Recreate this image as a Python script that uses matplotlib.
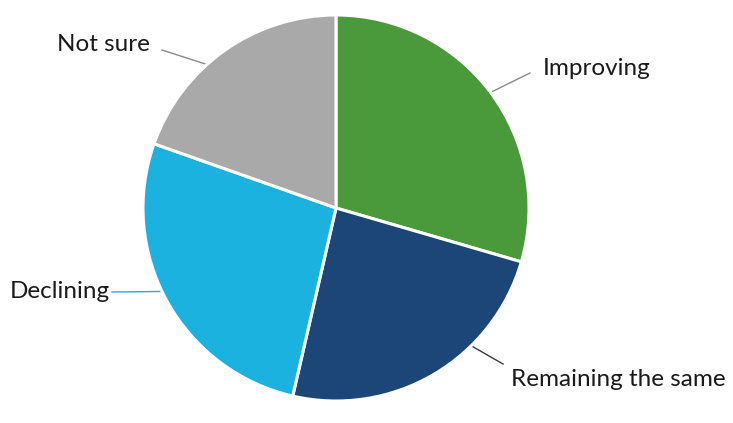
import numpy as np
import matplotlib
matplotlib.use("Agg")
import matplotlib.pyplot as plt

# Survey responses (share of respondents, %)
categories = ["Improving", "Remaining the same", "Declining", "Not sure"]
values = [29.5, 24.1, 26.8, 19.6]
colors = ["#4a9a3c", "#1c4677", "#1bb2e0", "#a9a9a9"]
line_colors = ["#8a8a8a", "#3a3a3a", "#1bb2e0", "#8a8a8a"]

W, H = 733, 423
fig = plt.figure(figsize=(W / 100, H / 100), dpi=100)
ax = fig.add_axes([0, 0, 1, 1])

cx, cy, r = 336, H - 208, 193
wedges, _ = ax.pie(values, colors=colors, startangle=90, counterclock=False,
                   center=(cx, cy), radius=r, frame=True,
                   wedgeprops=dict(edgecolor="white", linewidth=2.2))
ax.set_xlim(0, W)
ax.set_ylim(0, H)
ax.set_aspect("equal")
ax.axis("off")

# label layout: where the leader touches the wedge (fraction of the wedge,
# measured clockwise from its leading edge), where it ends, where text sits
anchor_frac = [0.5, 0.34, 0.53, 0.41]
leader_end = [(530, H - 73), (503, H - 364), (112, H - 292), (162, H - 50)]
text_pos = [(543, H - 68, "left"), (511, H - 380, "left"),
            (110, H - 292, "right"), (150, H - 44, "right")]

for w, frac, end, (tx, ty, ha), lc, name in zip(
        wedges, anchor_frac, leader_end, text_pos, line_colors, categories):
    a1, a2 = w.theta1, w.theta2
    ang = np.deg2rad(a2 - (a2 - a1) * frac)
    sx, sy = cx + (r - 2) * np.cos(ang), cy + (r - 2) * np.sin(ang)
    ax.plot([sx, end[0]], [sy, end[1]], color=lc, lw=1.0, zorder=0.5)
    ax.text(tx, ty, name, ha=ha, va="center", fontsize=17.5,
            family="Lato", color="#1a1a1a")

fig.savefig("out.png", dpi=100, facecolor="white")
